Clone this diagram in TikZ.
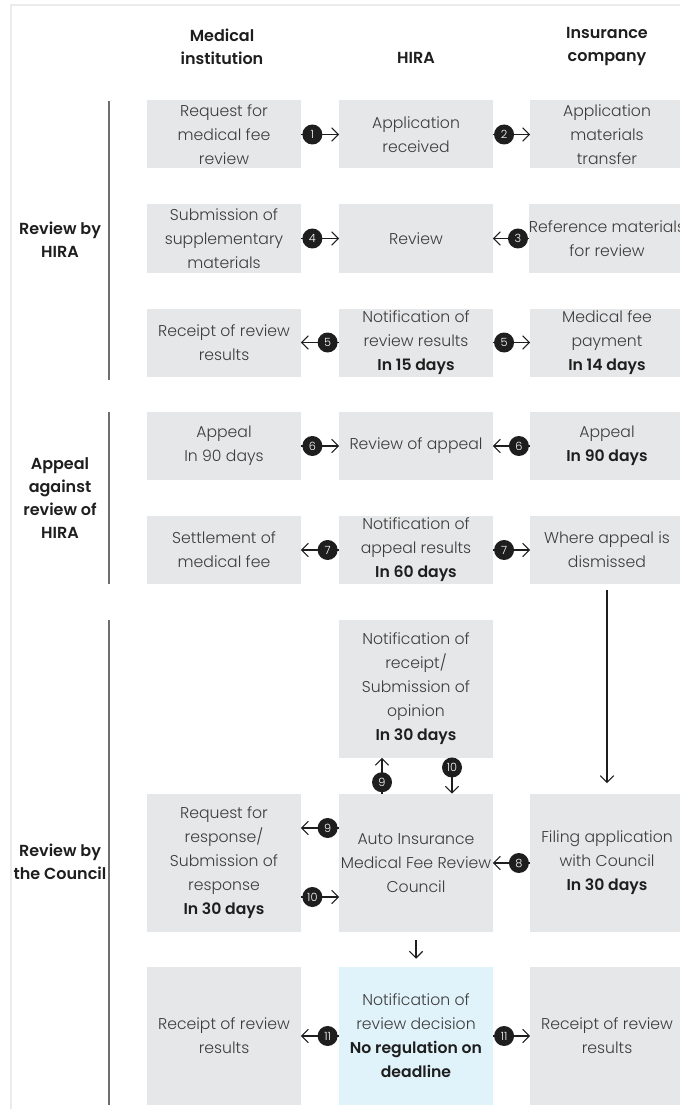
\documentclass[tikz,border=0pt]{standalone}
\usepackage{fontspec}
\setmainfont{Poppins}[UprightFont=* Light, BoldFont=* SemiBold]
\usetikzlibrary{arrows.meta}
\definecolor{boxgray}{HTML}{E6E7E8}
\definecolor{boxblue}{HTML}{E1F3FA}
\definecolor{txtgray}{HTML}{3C3C3C}
\definecolor{bargray}{HTML}{6E6E6E}
\definecolor{numblack}{HTML}{1E1E1E}
\newcommand{\due}[1]{\textbf{\color{numblack}#1}}

\begin{document}
\begin{tikzpicture}[
      x=0.75pt, y=-0.75pt,
      box/.style={fill=boxgray, minimum width=115pt, minimum height=51pt,
        inner sep=0pt, align=center, text=txtgray,
        font=\fontsize{11.75}{18}\selectfont},
      tall/.style={box, minimum height=103.5pt},
      head/.style={align=center, text=numblack,
        font=\fontsize{12}{17.25}\selectfont\bfseries},
      arr/.style={-{Straight Barb[length=5pt,width=10pt]}, line width=0.8pt,
        draw=numblack},
      num/.style={circle, fill=numblack, text=white, inner sep=0pt,
        minimum size=15pt, font=\fontsize{8.5}{9}\selectfont},
      bar/.style={draw=bargray, line width=1.5pt}
    ]
    \useasboundingbox (0,0) rectangle (680,1109);
    \draw[black!8, line width=0.8pt] (11,1109) -- (11,5) -- (680,5);

    \node[head] (hmi)   at (222,47) {Medical\\institution};
    \node[head] (hhira) at (416,58) {HIRA};
    \node[head] (hic)   at (607,47) {Insurance\\company};

    \node[head] (sec1) at (60,240) {Review by\\HIRA};
    \node[head] (sec2) at (60,498) {Appeal\\against\\review of\\HIRA};
    \node[head] (sec3) at (60,862) {Review by\\the Council};
    \draw[bar] (109,101) -- (109,380);
    \draw[bar] (109,412) -- (109,584);
    \draw[bar] (109,620) -- (109,1105);

    \node[box] (req)   at (224,134.5) {Request for\\medical fee\\review};
    \node[box] (recv)  at (416,134.5) {Application\\received};
    \node[box] (trans) at (607,134.5) {Application\\materials\\transfer};
    \node[box] (supp)  at (224,238.5) {Submission of\\supplementary\\materials};
    \node[box] (rev)   at (416,238.5) {Review};
    \node[box] (refm)  at (607,238.5) {Reference materials\\for review};
    \node[box] (rcpt)  at (224,342.5) {Receipt of review\\results};
    \node[box] (notif) at (416,342.5) {Notification of\\review results\\\due{In 15 days}};
    \node[box] (pay)   at (607,342.5) {Medical fee\\payment\\\due{In 14 days}};

    \node[box] (appmi)  at (224,446) {Appeal\\In 90 days};
    \node[box] (revap)  at (416,446) {Review of appeal};
    \node[box] (appic)  at (607,446) {Appeal\\\due{In 90 days}};
    \node[box] (settle) at (224,550) {Settlement of\\medical fee};
    \node[box] (apres)  at (416,550) {Notification of\\appeal results\\\due{In 60 days}};
    \node[box] (dism)   at (607,550) {Where appeal is\\dismissed};

    \node[tall] (opin)   at (416,688.5) {Notification of\\receipt/\\Submission of\\opinion\\\due{In 30 days}};
    \node[tall] (resp)   at (224,863) {Request for\\response/\\Submission of\\response\\\due{In 30 days}};
    \node[tall] (cncl)   at (416,863) {Auto Insurance\\Medical Fee Review\\Council};
    \node[tall] (filing) at (607,863) {Filing application\\with Council\\\due{In 30 days}};
    \node[tall] (rcptmi) at (224,1036) {Receipt of review\\results};
    \node[tall, fill=boxblue] (decis) at (416,1036) {Notification of\\review decision\\\due{No regulation on}\\\due{deadline}};
    \node[tall] (rcptic) at (607,1036) {Receipt of review\\results};

    \draw[arr] (req) -- (recv) node[num, pos=0.3] {1};
    \draw[arr] (recv) -- (trans) node[num, pos=0.3] {2};
    \draw[arr] (refm) -- (rev) node[num, pos=0.3] {3};
    \draw[arr] (supp) -- (rev) node[num, pos=0.3] {4};
    \draw[arr] (notif) -- (rcpt) node[num, pos=0.3] {5};
    \draw[arr] (notif) -- (pay) node[num, pos=0.3] {5};
    \draw[arr] (appmi) -- (revap) node[num, pos=0.3] {6};
    \draw[arr] (appic) -- (revap) node[num, pos=0.3] {6};
    \draw[arr] (apres) -- (settle) node[num, pos=0.3] {7};
    \draw[arr] (apres) -- (dism) node[num, pos=0.3] {7};
    \draw[arr, shorten <=4.5pt, shorten >=8pt] (dism) -- (filing);
    \draw[arr] (filing) -- (cncl) node[num, pos=0.3] {8};
    \draw[arr] ([yshift=26.25pt]cncl.west) -- ([yshift=26.25pt]resp.east)
      node[num, pos=0.3] {9};
    \draw[arr] ([yshift=-25.5pt]resp.east) -- ([yshift=-25.5pt]cncl.west)
      node[num, pos=0.3] {10};
    \draw[arr] ([xshift=-25.5pt]cncl.north) -- ([xshift=-25.5pt]opin.south)
      node[num, pos=0.32] {9};
    \draw[arr] ([xshift=27pt]opin.south) -- ([xshift=27pt]cncl.north)
      node[num, pos=0.27] {10};
    \draw[arr, shorten <=6pt, shorten >=6pt] (cncl) -- (decis);
    \draw[arr] (decis) -- (rcptmi) node[num, pos=0.3] {11};
    \draw[arr] (decis) -- (rcptic) node[num, pos=0.3] {11};
  \end{tikzpicture}
\end{document}
